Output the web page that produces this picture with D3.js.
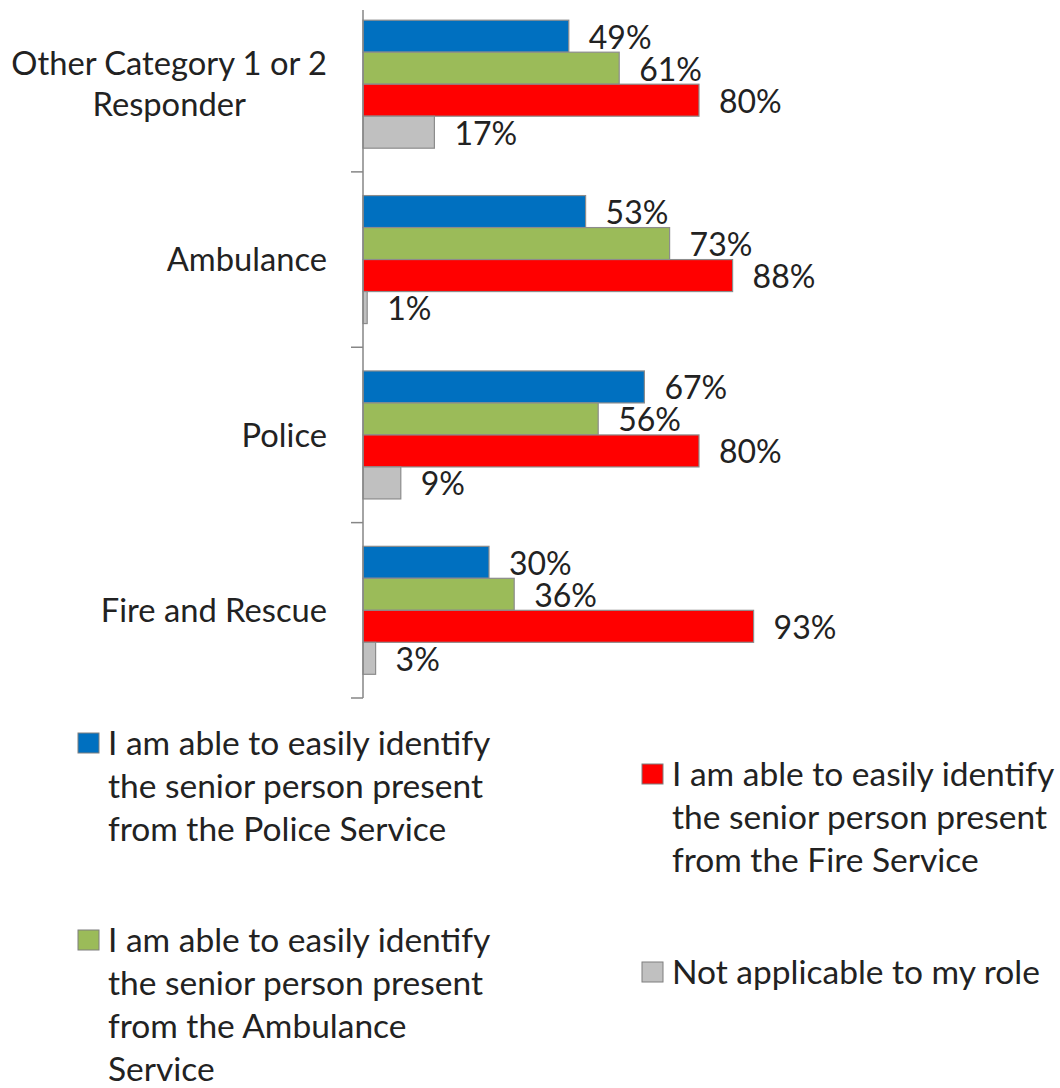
<!DOCTYPE html>
<html><head><meta charset="utf-8">
<script src="https://cdn.jsdelivr.net/npm/d3@7"></script>
<style>
html,body{margin:0;padding:0;background:#fff;}
svg{display:block;font-family:Lato,"Open Sans",sans-serif;}
</style></head>
<body>
<svg id="chart" width="1060" height="1088"></svg>
<script>
const categories = [["Other Category 1 or 2","Responder"],["Ambulance"],["Police"],["Fire and Rescue"]];
const seriesNames = ["Police","Ambulance","Fire","NA"];
const seriesColors = ["#0070C0","#9BBB59","#FF0000","#C0C0C0"];
const valuesPolice    = [49,53,67,30];
const valuesAmbulance = [61,73,56,36];
const valuesFire      = [80,88,80,93];
const valuesNA        = [17,1,9,3];
const legendLabels = [
  ["I am able to easily identify","the senior person present","from the Police Service"],
  ["I am able to easily identify","the senior person present","from the Ambulance","Service"],
  ["I am able to easily identify","the senior person present","from the Fire Service"],
  ["Not applicable to my role"]
];
const seriesValues = [valuesPolice, valuesAmbulance, valuesFire, valuesNA];

const svg = d3.select("#chart");
const fs = 32, fsCat = 32.7, fsLeg = 33.5;
const x = d3.scaleLinear().domain([0,100]).range([363,783]);
const catKeys = categories.map((c,i)=>i);
const y = d3.scaleBand().domain(catKeys).range([-3.5,698]).paddingInner(0);
const groupH = 128;
const y1 = d3.scaleBand().domain(d3.range(seriesNames.length)).range([0,groupH]);

// bars
catKeys.forEach(ci=>{
  const off = y(ci) + (y.bandwidth()-groupH)/2;
  seriesValues.forEach((vals,si)=>{
    const v = vals[ci];
    svg.append("rect")
      .attr("x", x(0)).attr("y", off + y1(si))
      .attr("width", x(v)-x(0)).attr("height", y1.bandwidth())
      .attr("fill", seriesColors[si])
      .attr("stroke","#8c8c8c").attr("stroke-width",1.2);
    svg.append("text")
      .attr("x", x(v)+20).attr("y", off + y1(si) + y1.bandwidth()/2 + 1)
      .attr("dy","0.36em")
      .attr("font-size",fs).attr("fill","#222")
      .text(v+"%");
  });
});

// axis
const axisG = svg.append("g").attr("stroke","#868686").attr("stroke-width",1.5);
axisG.append("line").attr("x1",x(0)).attr("x2",x(0)).attr("y1",10).attr("y2",y.range()[1]);
catKeys.forEach(ci=>{
  const yy = y(ci)+y.bandwidth();
  axisG.append("line").attr("x1",x(0)-12).attr("x2",x(0)).attr("y1",yy).attr("y2",yy);
});

// category labels
catKeys.forEach(ci=>{
  const lines = categories[ci];
  const cy = y(ci)+y.bandwidth()/2;
  const lh = 41;
  const t = svg.append("text").attr("font-size",fsCat).attr("fill","#222");
  const tmp = lines.map(l=>{
    const tt = svg.append("text").attr("font-size",fsCat).text(l);
    const w = tt.node().getComputedTextLength(); tt.remove(); return w;
  });
  const maxW = d3.max(tmp);
  const cx = 327 - maxW/2;
  lines.forEach((l,li)=>{
    t.append("tspan").attr("x",cx).attr("text-anchor","middle")
      .attr("y", cy + (li-(lines.length-1)/2)*lh).attr("dy","0.36em").text(l);
  });
});

// legend
const legendPos = [[78,733],[78,930],[642,764],[642,962]];
legendLabels.forEach((lines,i)=>{
  const [lx,ly] = legendPos[i];
  svg.append("rect").attr("x",lx).attr("y",ly).attr("width",21).attr("height",20)
    .attr("fill",seriesColors[i]).attr("stroke","#7f7f7f").attr("stroke-width",1);
  const t = svg.append("text").attr("font-size",fsLeg).attr("fill","#222");
  lines.forEach((l,li)=>{
    t.append("tspan").attr("x",lx+30).attr("y",ly+10+li*43).attr("dy","0.36em").text(l);
  });
});
</script>
</body></html>
